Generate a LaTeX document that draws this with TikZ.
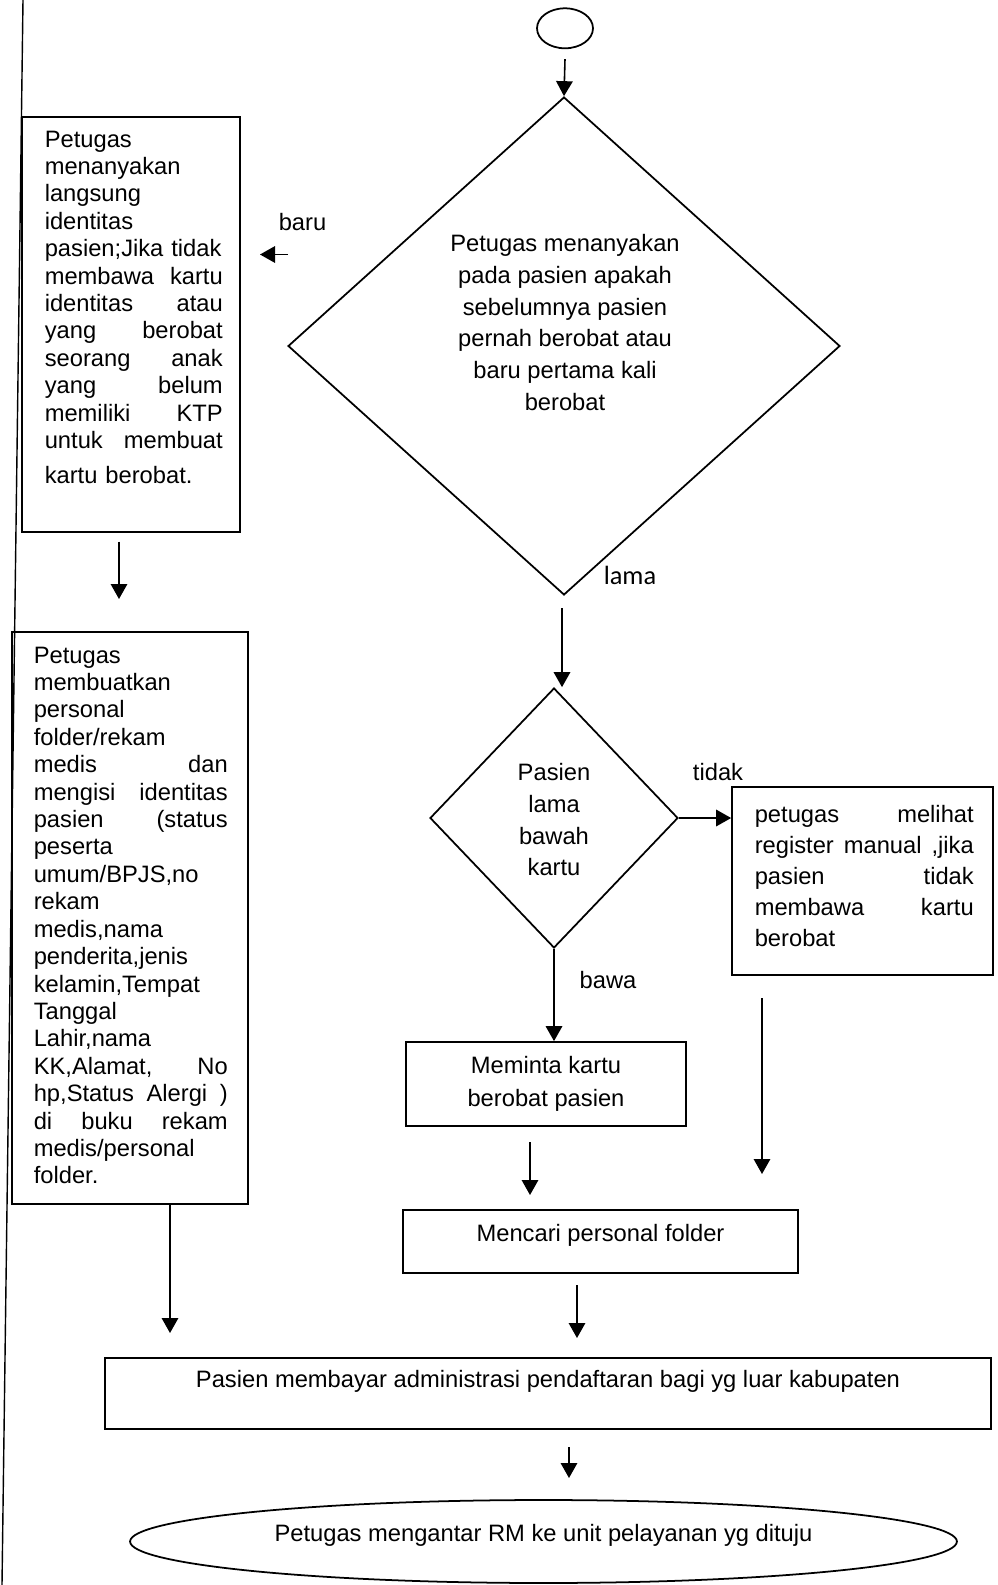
\documentclass[tikz,border=0pt]{standalone}
\usepackage{fontspec}
\setmainfont{Liberation Sans}
\newfontfamily\calibrifont{Carlito}
\usetikzlibrary{shapes.geometric,arrows.meta}
\tikzset{
  box/.style={draw, rectangle, line width=1pt, inner sep=0pt},
  decision/.style={draw, diamond, line width=1pt, inner sep=0pt},
  terminal/.style={draw, ellipse, line width=1pt, inner sep=0pt},
  txt/.style={inner sep=0pt, align=left, font=\fontsize{13.5}{15.6}\selectfont},
  lbl/.style={inner sep=0pt, font=\fontsize{13.5}{16}\selectfont}
}

\begin{document}
\begin{tikzpicture}[x=0.02cm, y=-0.02cm, >={Triangle[width=0.33cm,length=0.3cm]}, line width=0.9pt]
  \useasboundingbox (0,0) rectangle (997,1585);
  % page margin line
  \draw[line width=0.8pt] (23,0) -- (2,1585);

  % Start and first question
  \node[terminal, minimum width=1.12cm, minimum height=0.8cm] (mulai) at (565,28.3) {};
  \node[decision, minimum width=11.04cm, minimum height=9.96cm] (tanya) at (564,346) {};
  \node[lbl, anchor=north, align=center, font=\fontsize{13.5}{18}\selectfont] (tanyatxt) at (565,234)
    {Petugas menanyakan\\pada pasien apakah\\sebelumnya pasien\\pernah berobat atau\\baru pertama kali\\berobat};
  \draw[->] ([yshift=-0.2cm]mulai.south) -- (tanya.north);

  % Left column: new patient
  \node[box, minimum width=4.36cm, minimum height=8.3cm] (baru) at (131,324.5) {};
  \node[txt, anchor=north west, text width=3.56cm] (barutxt) at (44,130)
    {Petugas\\menanyakan\\langsung\\identitas\\pasien;Jika tidak\\membawa\hfill kartu\\identitas\hfill atau\\yang\hfill berobat\\seorang\hfill anak\\yang\hfill belum\\memiliki\hfill KTP\\untuk\hfill membuat\\[4pt]kartu berobat.};
  \node[box, minimum width=4.72cm, minimum height=11.44cm] (rekam) at (130,918) {};
  \node[txt, anchor=north west, text width=3.88cm] (rekamtxt) at (33,646)
    {Petugas\\membuatkan\\personal\\folder/rekam\\medis\hfill dan\\mengisi\hfill identitas\\pasien\hfill (status\\peserta\\umum/BPJS,no\\rekam\\medis,nama\\penderita,jenis\\kelamin,Tempat\\Tanggal\\Lahir,nama\\KK,Alamat,\hfill No\\hp,Status\hfill Alergi\hfill )\\di\hfill buku\hfill rekam\\medis/personal\\folder.};

  % baru branch
  \coordinate (baru1) at (288,254.5);
  \coordinate (baru2) at (260,254.5);
  \draw[->] (baru1) -- (baru2);
  \node[lbl, anchor=base] (lblbaru) at (302.5,230) {baru};
  \coordinate (turun1) at (119,541.5);
  \coordinate (turun2) at (119,599);
  \draw[->] (turun1) -- (turun2);

  % lama branch
  \node[lbl, anchor=base west, font=\calibrifont\fontsize{15}{18}\selectfont] (lbllama) at (603,584.3) {lama};
  \node[decision, minimum width=4.96cm, minimum height=5.2cm] (pilih) at (554,818) {};
  \node[lbl, anchor=north, align=center, font=\fontsize{13.5}{18}\selectfont] (pilihtxt) at (554,763)
    {Pasien\\lama\\bawah\\kartu};
  \coordinate (lama1) at (562,608);
  \draw[->] (lama1) -- (lama1 |- pilih.north);

  \node[box, minimum width=5.22cm, minimum height=3.76cm] (manual) at (862.5,881) {};
  \node[txt, anchor=north west, text width=4.38cm, font=\fontsize{13.5}{17.6}\selectfont] (manualtxt) at (754,805)
    {petugas\hfill melihat\\register\hfill manual\hfill ,jika\\pasien\hfill tidak\\membawa\hfill kartu\\berobat};
  \draw[->] (pilih.east) -- (pilih.east -| manual.west);
  \node[lbl, anchor=base] (lbltidak) at (718,780) {tidak};

  \node[box, align=center, minimum width=5.6cm, minimum height=1.68cm, font=\fontsize{13.5}{18.4}\selectfont] (minta) at (546,1084)
    {Meminta kartu\\berobat pasien};
  \draw[->] (pilih.south) -- (pilih.south |- minta.north);
  \node[lbl, anchor=base] (lblbawa) at (608,988) {bawa};

  \node[box, minimum width=7.9cm, minimum height=1.26cm, text height=18pt, text depth=17.8pt, font=\fontsize{13.5}{16}\selectfont] (cari) at (600.5,1241.5)
    {Mencari personal folder};
  \coordinate (minta1) at (530,1142);
  \coordinate (minta2) at (530,1195);
  \draw[->] (minta1) -- (minta2);
  \coordinate (manual1) at (762,998);
  \coordinate (manual2) at (762,1174);
  \draw[->] (manual1) -- (manual2);

  % Payment and end
  \node[box, minimum width=17.72cm, minimum height=1.42cm, text height=17pt, text depth=23.3pt, font=\fontsize{13.5}{16}\selectfont] (bayar) at (548,1393.5)
    {Pasien membayar administrasi pendaftaran bagi yg luar kabupaten};
  \coordinate (cari1) at (577,1285);
  \coordinate (cari2) at (577,1338);
  \draw[->] (cari1) -- (cari2);
  \coordinate (rekam1) at (170,1204);
  \coordinate (rekam2) at (170,1333);
  \draw[->] (rekam1) -- (rekam2);

  \node[terminal, minimum width=16.54cm, minimum height=1.66cm, text height=10pt, text depth=10pt, font=\fontsize{13.5}{16}\selectfont] (selesai) at (543.5,1541.5)
    {Petugas mengantar RM ke unit pelayanan yg dituju};
  \coordinate (bayar1) at (569,1447);
  \coordinate (bayar2) at (569,1478);
  \draw[->] (bayar1) -- (bayar2);
\end{tikzpicture}
\end{document}
